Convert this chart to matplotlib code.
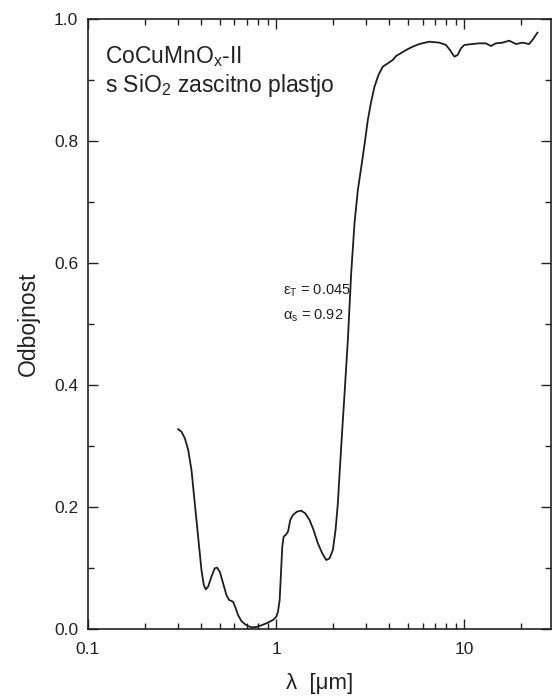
import matplotlib
matplotlib.use("Agg")
import matplotlib.pyplot as plt
from matplotlib.ticker import LogLocator, MultipleLocator, FixedLocator, FixedFormatter, NullFormatter

plt.rcParams["font.family"] = ["Liberation Sans", "DejaVu Sans"]
plt.rcParams["mathtext.default"] = "regular"

# Reflectance spectrum of the CoCuMnOx-II coating with SiO2 protective layer
wavelength_um = [
    0.3014, 0.3140, 0.3272, 0.3409, 0.3548, 0.3621, 0.3695, 0.3771, 0.3896, 0.4009,
    0.4125, 0.4227, 0.4349, 0.4530, 0.4718, 0.4855, 0.5016, 0.5224, 0.5441, 0.5621,
    0.5902, 0.6097, 0.6273, 0.6534, 0.6806, 0.7089, 0.7384, 0.7849, 0.8344, 0.8867,
    0.9620, 1.002, 1.0226, 1.044, 1.0565, 1.0695, 1.078, 1.096, 1.123, 1.156,
    1.189, 1.228, 1.290, 1.360, 1.428, 1.505, 1.581, 1.667, 1.758, 1.846,
    1.922, 2.002, 2.069, 2.128, 2.190, 2.244, 2.309, 2.405, 2.505, 2.609,
    2.718, 2.888, 2.972, 3.071, 3.199, 3.332, 3.498, 3.689, 3.920, 4.167,
    4.341, 4.905, 5.318, 5.771, 6.522, 7.372, 7.991, 8.395, 8.851, 9.217,
    9.600, 10.0, 11.07, 12.0, 13.03, 13.86, 14.72, 15.97, 17.33, 18.80,
    20.39, 22.12, 23.04, 24.49,
]
reflectance = [
    0.3273, 0.3235, 0.3126, 0.2934, 0.2607, 0.2333, 0.2060, 0.1787, 0.1350, 0.0967,
    0.0721, 0.0650, 0.0694, 0.0858, 0.0995, 0.1006, 0.0940, 0.0749, 0.0557, 0.0475,
    0.0448, 0.0339, 0.0230, 0.0131, 0.0082, 0.0049, 0.0027, 0.0033, 0.0060, 0.0093,
    0.0148, 0.0202, 0.0284, 0.0475, 0.0803, 0.1131, 0.1350, 0.1514, 0.1541, 0.1596,
    0.1787, 0.1869, 0.1924, 0.1940, 0.1896, 0.1787, 0.1623, 0.1404, 0.1240, 0.1131,
    0.1158, 0.1295, 0.1623, 0.2060, 0.2716, 0.3250, 0.3850, 0.4738, 0.5831, 0.6650,
    0.7197, 0.7743, 0.8016, 0.8344, 0.8645, 0.8891, 0.9082, 0.9219, 0.9273, 0.9328,
    0.9393, 0.9492, 0.9546, 0.9590, 0.9628, 0.9612, 0.9574, 0.9492, 0.9383, 0.9410,
    0.9519, 0.9574, 0.9590, 0.9601, 0.9601, 0.9557, 0.9601, 0.9612, 0.9645, 0.9590,
    0.9612, 0.9590, 0.9656, 0.9776,
]

x_tick_values = [0.1, 1, 10]
x_tick_labels = ["0.1", "1", "10"]
y_tick_values = [0.0, 0.2, 0.4, 0.6, 0.8, 1.0]
y_tick_labels = ["0.0", "0.2", "0.4", "0.6", "0.8", "1.0"]

fig = plt.figure(figsize=(5.52, 6.98), dpi=100)
ax = fig.add_axes([88 / 552, 1 - 629 / 698, 463 / 552, 610 / 698])

ax.plot(wavelength_um, reflectance, color="#1e1e1e", lw=1.3)

ax.set_xscale("log")
ax.set_xlim(0.1, 28.9)
ax.set_ylim(0.0, 1.0)

ax.xaxis.set_major_locator(FixedLocator(x_tick_values))
ax.xaxis.set_major_formatter(FixedFormatter(x_tick_labels))
ax.xaxis.set_minor_locator(LogLocator(base=10, subs=range(2, 10)))
ax.xaxis.set_minor_formatter(NullFormatter())
ax.yaxis.set_major_locator(FixedLocator(y_tick_values))
ax.yaxis.set_major_formatter(FixedFormatter(y_tick_labels))
ax.yaxis.set_minor_locator(MultipleLocator(0.1))

ax.tick_params(which="both", direction="in", top=True, right=True,
               colors="#222222", labelcolor="#222222")
ax.tick_params(which="major", length=7, width=1.0, labelsize=12.5)
ax.tick_params(which="minor", length=4, width=1.0)
ax.tick_params(axis="y", which="major", pad=7)
ax.tick_params(axis="x", which="major", pad=9)
for sp in ax.spines.values():
    sp.set_linewidth(1.2)
    sp.set_color("#222222")

ax.set_ylabel("Odbojnost", fontsize=16.5, color="#222222", labelpad=10)
ax.set_xlabel("λ  [μm]", fontsize=16, color="#222222", labelpad=12)

ax.text(0.036, 0.928, "CoCuMnO$_x$-II", transform=ax.transAxes,
        fontsize=16.5, color="#222222", va="baseline", ha="left")
ax.text(0.036, 0.881, "s SiO$_2$ zascitno plastjo", transform=ax.transAxes,
        fontsize=16.5, color="#222222", va="baseline", ha="left")

ax.text(0.421, 0.548, "ε$_T$ = 0.045", transform=ax.transAxes,
        fontsize=10.5, color="#222222", va="baseline", ha="left")
ax.text(0.421, 0.508, "α$_s$ = 0.92", transform=ax.transAxes,
        fontsize=10.5, color="#222222", va="baseline", ha="left")

fig.savefig("out.png", dpi=100)
